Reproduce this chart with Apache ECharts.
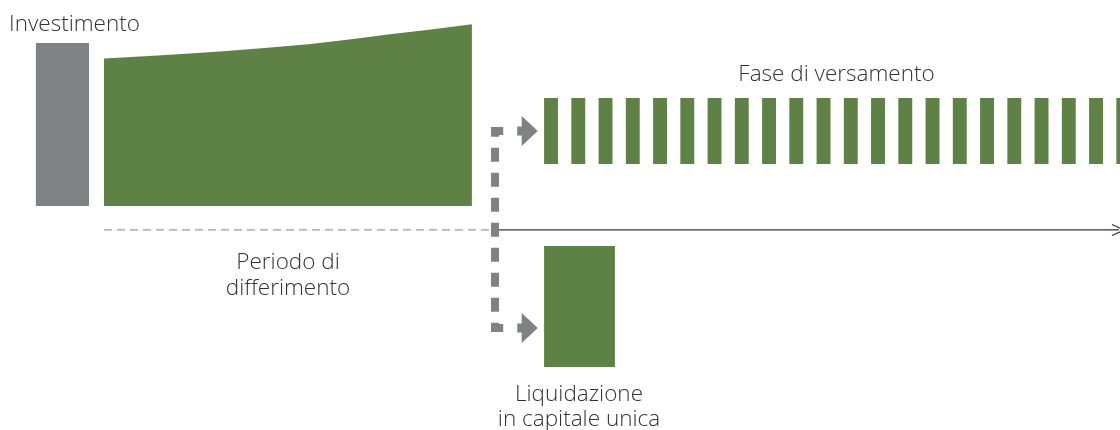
<!DOCTYPE html>
<html><head><meta charset="utf-8">
<script src="https://cdn.jsdelivr.net/npm/echarts@6/dist/echarts.min.js"></script>
<style>html,body{margin:0;padding:0;background:#fff}#c{width:1120px;height:430px}</style>
</head><body><div id="c"></div>
<script>
// ---------------- data ----------------
const labels = ['Investimento', 'Periodo di\ndifferimento', 'Fase di versamento', 'Liquidazione\nin capitale unica'];
const investimento = [100];
const anniDifferimento = [0, 1.5, 3, 4.5, 6, 7.5, 9, 10.5, 12, 13.5];
const capitaleAccumulato = [90.5, 91.9, 93.4, 95.1, 97.1, 99.3, 102.2, 105.3, 108.3, 111.5];
const rateVersamento = [40.5, 40.5, 40.5, 40.5, 40.5, 40.5, 40.5, 40.5, 40.5, 40.5, 40.5,
                        40.5, 40.5, 40.5, 40.5, 40.5, 40.5, 40.5, 40.5, 40.5, 40.5, 40.5];
const liquidazione = [74.2];

// ---------------- layout ----------------
const PX_PER_YEAR = 27.25, ORIGIN_X = 104;
const PX_PER_UNIT = 1.63, BASE_Y = 206;
const W = 1120, H = 430;
const xMin = -ORIGIN_X / PX_PER_YEAR, xMax = (W - ORIGIN_X) / PX_PER_YEAR;
const yMax = BASE_Y / PX_PER_UNIT, yMin = -(H - BASE_Y) / PX_PER_UNIT;
const INV_T = [-2.5, -0.55];
const PAY_T0 = 16.15, PAY_W = 0.51, PAY_BASE = 25.8;
const LUMP_T = [16.15, 18.75], LUMP_TOP = -24.5;
const TIMELINE = -14.7;
const SPLIT_T = 14.2;
const CONN_T = 14.35, CONN_STUB = 0.3, CONN_TOP = 46.0, CONN_BOTTOM = -74.8;

const GREEN = '#5e8245', GRAY = '#808185', TEXT = '#333333';
const FONT = '300 22.5px "Open Sans"';

function rectItem(color) {
  return function (params, api) {
    const p0 = api.coord([api.value(0), api.value(3)]);
    const p1 = api.coord([api.value(1), api.value(2)]);
    return { type: 'rect', shape: { x: p0[0], y: p0[1], width: p1[0] - p0[0], height: p1[1] - p0[1] },
             style: { fill: color } };
  };
}

const invData = investimento.map(v => [INV_T[0], INV_T[1], 0, v]);
const payData = rateVersamento.map((v, k) => [PAY_T0 + k, PAY_T0 + k + PAY_W, PAY_BASE, PAY_BASE + v]);
const lumpData = liquidazione.map(v => [LUMP_T[0], LUMP_T[1], LUMP_TOP - v, LUMP_TOP]);
const areaData = anniDifferimento.map((t, i) => [t, capitaleAccumulato[i]]);

const chart = echarts.init(document.getElementById('c'), null, { renderer: 'canvas' });
chart.setOption({
  animation: false,
  backgroundColor: '#fff',
  grid: { left: 0, right: 0, top: 0, bottom: 0 },
  xAxis: { type: 'value', min: xMin, max: xMax, show: false },
  yAxis: { type: 'value', min: yMin, max: yMax, show: false },
  series: [
    { type: 'custom', silent: true, data: invData, renderItem: rectItem(GRAY) },
    { type: 'custom', silent: true, data: [0], renderItem: function (params, api) {
        const pts = areaData.map(d => api.coord(d));
        const n = anniDifferimento.length - 1;
        pts.push(api.coord([anniDifferimento[n], 0]));
        pts.push(api.coord([anniDifferimento[0], 0]));
        return { type: 'polygon', shape: { points: pts }, style: { fill: GREEN } };
      } },
    { type: 'custom', silent: true, data: payData, renderItem: rectItem(GREEN) },
    { type: 'custom', silent: true, data: lumpData, renderItem: rectItem(GREEN) },
    // timeline, connector, arrows
    { type: 'custom', silent: true, data: [0], renderItem: function (params, api) {
        const a = api.coord([0, TIMELINE]);
        const b = api.coord([SPLIT_T, TIMELINE]);
        const c = api.coord([xMax, TIMELINE]);
        const ct = api.coord([CONN_T, CONN_TOP]);
        const cb = api.coord([CONN_T, CONN_BOTTOM]);
        const st = api.coord([CONN_T + CONN_STUB, CONN_TOP]);
        const sb = api.coord([CONN_T + CONN_STUB, CONN_BOTTOM]);
        function arrow(y) {
          const x0 = st[0] + 14;
          return { type: 'polygon', shape: { points: [[x0, y - 4.5], [x0 + 4.5, y - 4.5], [x0 + 4.5, y - 15], [x0 + 20.5, y], [x0 + 4.5, y + 15], [x0 + 4.5, y + 4.5], [x0, y + 4.5]] },
                   style: { fill: GRAY } };
        }
        return { type: 'group', children: [
          { type: 'line', shape: { x1: a[0], y1: a[1], x2: b[0], y2: b[1] },
            style: { stroke: '#9a9a9a', lineWidth: 1.2, lineDash: [8, 5] } },
          { type: 'line', shape: { x1: b[0], y1: b[1], x2: c[0] - 1, y2: c[1] },
            style: { stroke: '#333', lineWidth: 1.3 } },
          { type: 'polyline', shape: { points: [[c[0] - 8, c[1] - 5.5], [c[0] + 4, c[1]], [c[0] - 8, c[1] + 5.5]] },
            style: { stroke: '#333', lineWidth: 1.2, fill: null } },
          { type: 'polyline', shape: { points: [st, ct, cb, sb] },
            style: { stroke: GRAY, lineWidth: 8, lineDash: [14, 11], fill: null, lineCap: 'butt', lineJoin: 'miter' } },
          arrow(st[1]), arrow(sb[1])
        ] };
      } }
  ],
  graphic: [
    { type: 'text', x: 9, y: 25, style: { text: labels[0], font: FONT, fill: TEXT, textVerticalAlign: 'middle' } },
    { type: 'text', x: 288, y: 275.5, style: { text: labels[1], font: FONT, fill: TEXT, textAlign: 'center', textVerticalAlign: 'middle', lineHeight: 25.5 } },
    { type: 'text', x: 836.5, y: 75, style: { text: labels[2], font: FONT, fill: TEXT, textAlign: 'center', textVerticalAlign: 'middle' } },
    { type: 'text', x: 579, y: 407, style: { text: labels[3], font: FONT, fill: TEXT, textAlign: 'center', textVerticalAlign: 'middle', lineHeight: 25.5 } }
  ]
});
</script></body></html>
